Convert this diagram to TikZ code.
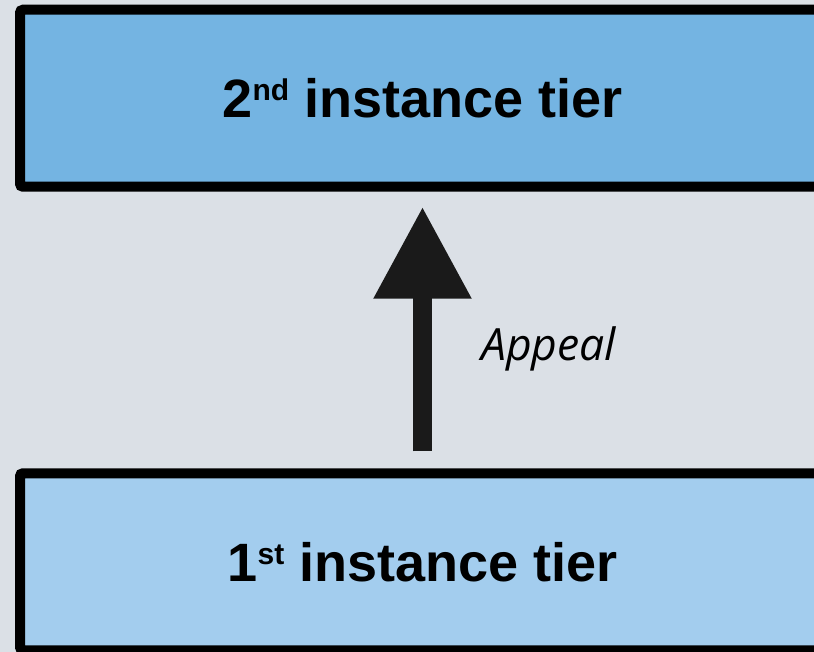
\documentclass[tikz,border=0pt]{standalone}
\usepackage{fontspec}
\setmainfont{Liberation Sans}
\newfontfamily\appealfont{Open Sans}
\usetikzlibrary{arrows.meta,positioning}
\definecolor{pagegray}{HTML}{DBE0E6}
\definecolor{tiertop}{HTML}{74B4E2}
\definecolor{tierlow}{HTML}{A3CDEE}
\definecolor{arrowblack}{HTML}{1A1A1A}
\newcommand{\tiersup}[1]{\raisebox{17pt}{\fontsize{30}{30}\selectfont #1}}

\begin{document}
\begin{tikzpicture}[x=1pt, y=-1pt,
  tier/.style={draw=black, line width=10pt, rounded corners=3pt,
    minimum width=805pt, minimum height=177pt, inner sep=0pt,
    font=\fontsize{54}{60}\selectfont\bfseries},
  >={Triangle[length=92pt, width=93pt]}]
  % page
  \useasboundingbox (0,0) rectangle (814,652);
  \clip (0,0) rectangle (814,652);
  \fill[pagegray] (0,0) rectangle (814,652);
  % tiers
  \node[tier, fill=tiertop] (tier2) at (422.5,98.25) {2\tiersup{nd} instance tier};
  \node[tier, fill=tierlow] (tier1) at (422.5,561.75) {1\tiersup{st} instance tier};
  % appeal
  \draw[->, arrowblack, line width=19pt, shorten <=17pt, shorten >=15pt] (tier1) -- (tier2);
  \node[anchor=base west, inner sep=0pt, font=\appealfont\itshape\fontsize{44.5}{48}\selectfont]
    (appeal) at (481,360) {Appeal};
\end{tikzpicture}
\end{document}
